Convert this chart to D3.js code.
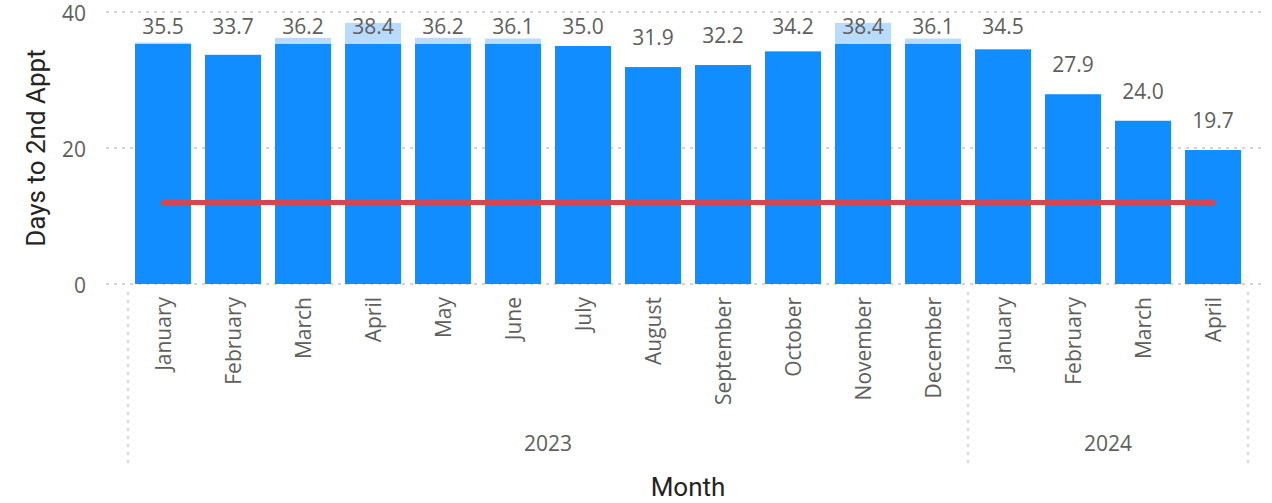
<!DOCTYPE html>
<html lang="en">
<head>
<meta charset="UTF-8">
<title>Days to 2nd Appt by Month</title>
<style>
    body { margin: 0; background: #fff; }
    svg text { font-family: "Segoe UI", "Open Sans", sans-serif; }
    .tick-label { fill: #605E5C; font-size: 21px; }
    .data-label { fill: #605E5C; font-size: 21px; text-anchor: middle; }
    svg text.axis-title { font-family: "DIN", Roboto, sans-serif; fill: #252423; font-size: 26px; font-weight: 400; text-anchor: middle; }
    .grid { stroke: #C8C8C8; stroke-width: 1.5; stroke-dasharray: 3 5; }
</style>
</head>
<body>
<div id="chart"></div>
<script src="https://cdn.jsdelivr.net/npm/d3@7"></script>
<script>
    // data
    const years = ["2023", "2023", "2023", "2023", "2023", "2023", "2023", "2023", "2023", "2023", "2023", "2023",
                   "2024", "2024", "2024", "2024"];
    const months = ["January", "February", "March", "April", "May", "June", "July", "August",
                    "September", "October", "November", "December",
                    "January", "February", "March", "April"];
    const values = [35.5, 33.7, 36.2, 38.4, 36.2, 36.1, 35.0, 31.9, 32.2, 34.2, 38.4, 36.1, 34.5, 27.9, 24.0, 19.7];
    // darker portion of each bar (highlight overlay)
    const baseValues = [35.3, 33.7, 35.3, 35.3, 35.3, 35.3, 35.0, 31.9, 32.2, 34.2, 35.3, 35.3, 34.5, 27.9, 24.0, 19.7];
    const targets = [12, 12, 12, 12, 12, 12, 12, 12, 12, 12, 12, 12, 12, 12, 12, 12];
    const yTicks = [0, 20, 40];

    const width = 1272, height = 503;
    const svg = d3.select("#chart").append("svg")
        .attr("width", width)
        .attr("height", height);

    const keys = months.map((m, i) => years[i] + "-" + m);
    const rows = keys.map((k, i) => ({ key: k, month: months[i], year: years[i], value: values[i], base: baseValues[i], target: targets[i] }));

    const x = d3.scaleBand().domain(keys).range([128, 1248]).paddingInner(0.2).paddingOuter(0.1);
    const y = d3.scaleLinear().domain([0, 40]).range([284, 12]);

    // gridlines
    svg.append("g").selectAll("line")
        .data(yTicks)
        .join("line")
        .attr("class", "grid")
        .attr("x1", 106).attr("x2", 1264)
        .attr("y1", d => y(d)).attr("y2", d => y(d));

    svg.append("g").selectAll("text")
        .data(yTicks)
        .join("text")
        .attr("class", "tick-label")
        .attr("x", 86)
        .attr("y", d => y(d))
        .attr("dy", "0.45em")
        .attr("text-anchor", "end")
        .text(d => d);

    // bars: light full value, dark base on top
    const bars = svg.append("g");
    bars.selectAll("rect.full")
        .data(rows)
        .join("rect")
        .attr("class", "full")
        .attr("x", d => x(d.key))
        .attr("width", x.bandwidth())
        .attr("y", d => y(d.value))
        .attr("height", d => y(0) - y(d.value))
        .attr("fill", "#B9DBFD");
    bars.selectAll("rect.base")
        .data(rows)
        .join("rect")
        .attr("class", "base")
        .attr("x", d => x(d.key))
        .attr("width", x.bandwidth())
        .attr("y", d => y(d.base))
        .attr("height", d => y(0) - y(d.base))
        .attr("fill", "#118DFF");

    // target line
    svg.append("path")
        .datum(rows)
        .attr("d", d3.line().x(d => x(d.key) + x.bandwidth() / 2).y(d => y(d.target)))
        .attr("fill", "none")
        .attr("stroke", "#D64550")
        .attr("stroke-width", 5)
        .attr("stroke-linecap", "round");

    // data labels, kept inside the plot top
    svg.append("g").selectAll("text")
        .data(rows)
        .join("text")
        .attr("class", "data-label")
        .attr("x", d => x(d.key) + x.bandwidth() / 2)
        .attr("y", d => Math.max(34, y(d.value) - 22))
        .text(d => d.value.toFixed(1));

    // month labels
    svg.append("g").selectAll("text")
        .data(rows)
        .join("text")
        .attr("class", "tick-label")
        .attr("transform", d => `translate(${x(d.key) + x.bandwidth() / 2},297) rotate(-90)`)
        .attr("dy", "0.36em")
        .attr("text-anchor", "end")
        .text(d => d.month);

    // year groups
    const yearGroups = d3.groups(rows, d => d.year).map(([yr, list]) => ({
        year: yr,
        x0: x(list[0].key) - x.step() * x.paddingInner() / 2,
        x1: x(list[list.length - 1].key) + x.bandwidth() + x.step() * x.paddingInner() / 2
    }));
    const bounds = [yearGroups[0].x0].concat(yearGroups.map(g => g.x1));
    svg.append("g").selectAll("line")
        .data(bounds)
        .join("line")
        .attr("class", "grid")
        .attr("x1", d => d).attr("x2", d => d)
        .attr("y1", 292).attr("y2", 464);
    svg.append("g").selectAll("text")
        .data(yearGroups)
        .join("text")
        .attr("class", "tick-label")
        .attr("x", d => (d.x0 + d.x1) / 2)
        .attr("y", 443)
        .attr("dy", "0.36em")
        .attr("text-anchor", "middle")
        .text(d => d.year);

    // axis titles
    svg.append("text")
        .attr("class", "axis-title")
        .attr("x", 688)
        .attr("y", 496)
        .text("Month");
    svg.append("text")
        .attr("class", "axis-title")
        .attr("transform", "translate(45,148) rotate(-90)")
        .text("Days to 2nd Appt");
</script>
</body>
</html>
